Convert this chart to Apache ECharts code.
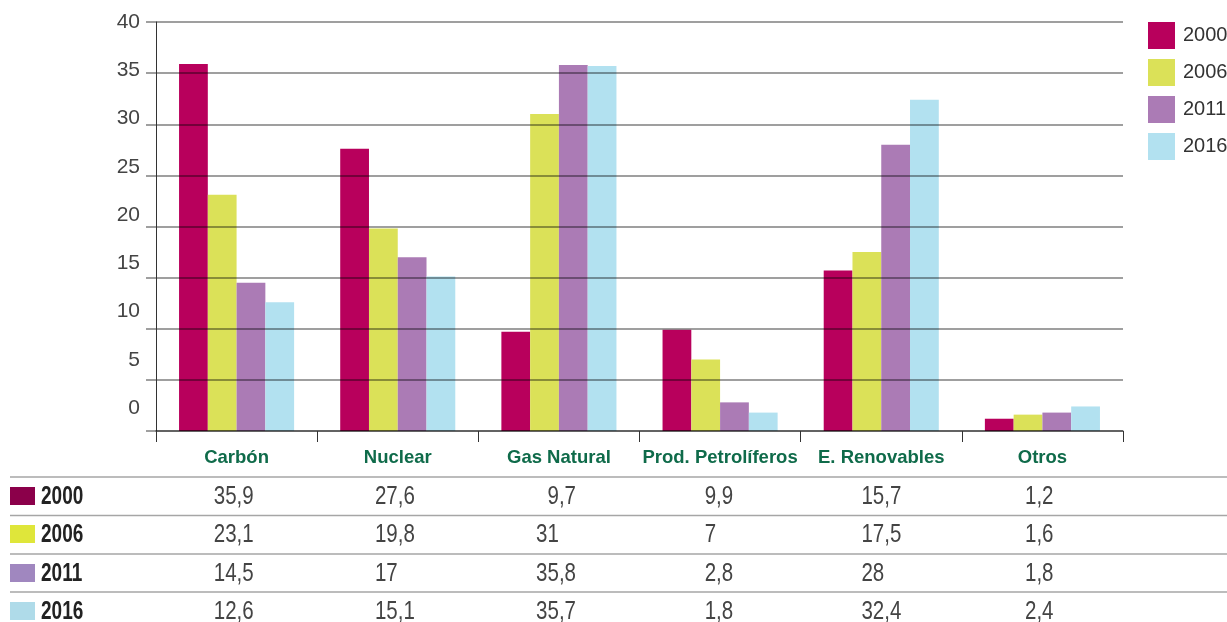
<!DOCTYPE html>
<html>
<head>
<meta charset="utf-8">
<script src="https://cdn.jsdelivr.net/npm/echarts@6/dist/echarts.min.js"></script>
<style>
  html, body { margin: 0; padding: 0; background: #fff; }
  #chart { width: 1227px; height: 622px; }
</style>
</head>
<body>
<div id="chart"></div>
<script>
var categories = ['Carbón', 'Nuclear', 'Gas Natural', 'Prod. Petrolíferos', 'E. Renovables', 'Otros'];
var years = ['2000', '2006', '2011', '2016'];
var v2000 = [35.9, 27.6, 9.7, 9.9, 15.7, 1.2];
var v2006 = [23.1, 19.8, 31, 7, 17.5, 1.6];
var v2011 = [14.5, 17, 35.8, 2.8, 28, 1.8];
var v2016 = [12.6, 15.1, 35.7, 1.8, 32.4, 2.4];
var yMin = 0, yMax = 40, yStep = 5;

var barColors = ['#b8005c', '#dbe158', '#ab7bb5', '#b2e1f0'];
var tableColors = ['#8b004a', '#dfe63a', '#a087bf', '#afdbe9'];
var FONT = "'Liberation Sans', Arial, sans-serif";
var gridCol = 'rgba(0,0,0,0.5)';

var dom = document.getElementById('chart');
var myChart = echarts.init(dom);
var rows = [v2000, v2006, v2011, v2016];

var series = years.map(function (y, i) {
    return {
        name: y,
        type: 'bar',
        xAxisIndex: 0,
        yAxisIndex: 0,
        barGap: '0%',
        barCategoryGap: '28.6%',
        itemStyle: { color: barColors[i] },
        data: rows[i]
    };
});

var option = {
    animation: false,
    color: barColors,
    textStyle: { fontFamily: FONT },
    legend: {
        orient: 'vertical',
        left: 1148,
        top: 22,
        padding: 0,
        itemWidth: 27,
        itemHeight: 27,
        itemGap: 10,
        icon: 'rect',
        data: years,
        textStyle: { fontFamily: FONT, fontSize: 20, color: '#333', padding: [0, 0, 0, 3] }
    },
    grid: [
        { left: 156, right: 104, top: 22, bottom: 191 },
        // las etiquetas del eje Y van en una escala algo más corta
        { left: 156, right: 104, top: 22, bottom: 214 }
    ],
    xAxis: [
        {
            type: 'category',
            gridIndex: 0,
            data: categories,
            z: 3,
            axisLine: { lineStyle: { color: gridCol, width: 1.5 } },
            axisTick: { show: true, length: 11, interval: 0, lineStyle: { color: '#333', width: 1 } },
            axisLabel: {
                interval: 0,
                margin: 17,
                fontFamily: FONT,
                fontSize: 18.5,
                fontWeight: 'bold',
                color: '#0f6b4a'
            }
        },
        { type: 'category', gridIndex: 1, data: categories, show: false }
    ],
    yAxis: [
        {
            type: 'value',
            gridIndex: 0,
            min: yMin, max: yMax, interval: yStep,
            z: 3,
            axisLine: { show: true, lineStyle: { color: '#333', width: 1 } },
            axisTick: { show: true, length: 10, lineStyle: { color: gridCol, width: 1.5 } },
            axisLabel: { show: false },
            splitLine: { show: true, lineStyle: { color: gridCol, width: 1.5 } }
        },
        {
            type: 'value',
            gridIndex: 1,
            min: yMin, max: yMax, interval: yStep,
            axisLine: { show: false },
            axisTick: { show: false },
            splitLine: { show: false },
            axisLabel: { margin: 16, fontFamily: FONT, fontSize: 21, color: '#444' }
        }
    ],
    series: series
};
myChart.setOption(option, true);

// tabla de datos bajo el gráfico
var rowY = [496, 534, 573, 611];
var lineY = [477, 515.5, 554, 592];
var anchorShift = [0, 0, 0, -4, 3, -6];
var graphic = [];
function cell(text, x, y, font, color, align, sx) {
    return { type: 'text', x: x, y: y, scaleX: sx,
        style: { text: text, x: 0, y: 0, font: font, fill: color,
            textAlign: align, textVerticalAlign: 'middle' } };
}
lineY.forEach(function (y) {
    graphic.push({ type: 'line', shape: { x1: 10, y1: y, x2: 1227, y2: y },
        style: { stroke: '#a6a6a6', lineWidth: 1.5 } });
});
years.forEach(function (yr, r) {
    var cy = rowY[r];
    graphic.push({ type: 'rect', shape: { x: 10, y: cy - 9, width: 25, height: 18 },
        style: { fill: tableColors[r] } });
    graphic.push(cell(yr, 41, cy + 1, 'bold 25px ' + FONT, '#222', 'left', 0.76));
    categories.forEach(function (c, k) {
        var ax = myChart.convertToPixel({ xAxisIndex: 0 }, c) + anchorShift[k];
        var parts = String(rows[r][k]).split('.');
        graphic.push(cell(parts[0], ax, cy + 1, '25px ' + FONT, '#444', 'right', 0.82));
        if (parts[1]) {
            graphic.push(cell(',' + parts[1], ax, cy + 1, '25px ' + FONT, '#444', 'left', 0.82));
        }
    });
});
myChart.setOption({ graphic: graphic });
</script>
</body>
</html>
